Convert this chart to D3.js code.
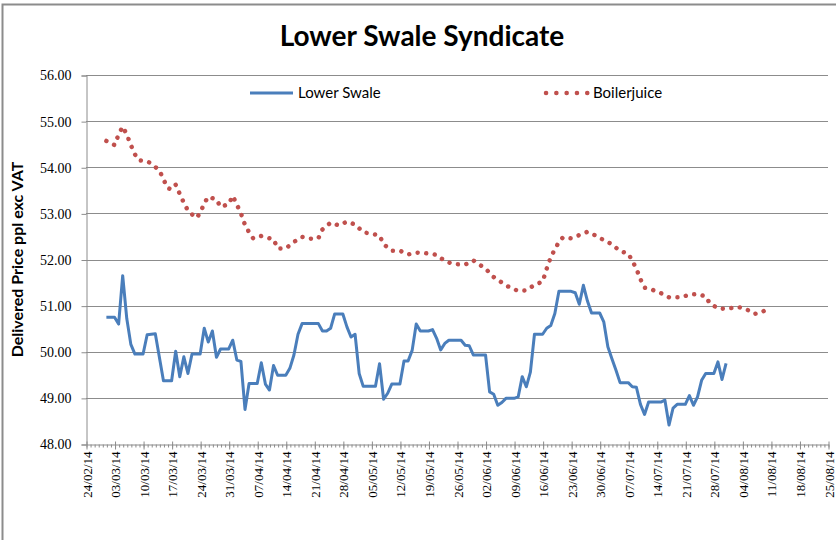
<!DOCTYPE html>
<meta charset="utf-8">
<title>Lower Swale Syndicate</title>
<style>
body{
  margin:0;
  background:#fff;
}
svg{
  display:block;
}
.grid line{
  stroke:#8c8c8c;
}
.axis path, .axis line{
  stroke:#8c8c8c;
}
.axis text{
  font-family:'Liberation Serif', serif;
  fill:#000;
}
.title{
  font-family:'Lato', sans-serif;
  font-weight:bold;
}
.legend text{
  font-family:'Lato', sans-serif;
  font-size:15px;
}
</style>
<svg class="chart" width="836" height="540"></svg>

<script src="https://cdnjs.cloudflare.com/ajax/libs/d3/7.8.5/d3.min.js"></script>
<script>

// week ticks on the x axis
var tickLabels = ["24/02/14","03/03/14","10/03/14","17/03/14","24/03/14","31/03/14","07/04/14","14/04/14",
  "21/04/14","28/04/14","05/05/14","12/05/14","19/05/14","26/05/14","02/06/14","09/06/14","16/06/14",
  "23/06/14","30/06/14","07/07/14","14/07/14","21/07/14","28/07/14","04/08/14","11/08/14","18/08/14","25/08/14"];
var yTicks = [48, 49, 50, 51, 52, 53, 54, 55, 56];

// Lower Swale
var lsDates = ["01/03/14","03/03/14","04/03/14","05/03/14","06/03/14","07/03/14","08/03/14","10/03/14","11/03/14","13/03/14",
  "15/03/14","17/03/14","18/03/14","19/03/14","20/03/14","21/03/14","22/03/14","24/03/14","25/03/14","26/03/14",
  "27/03/14","28/03/14","29/03/14","31/03/14","01/04/14","02/04/14","03/04/14","04/04/14","05/04/14","07/04/14",
  "08/04/14","09/04/14","10/04/14","11/04/14","12/04/14","14/04/14","15/04/14","16/04/14","17/04/14","18/04/14",
  "22/04/14","23/04/14","24/04/14","25/04/14","26/04/14","28/04/14","29/04/14","30/04/14","01/05/14","02/05/14",
  "03/05/14","06/05/14","07/05/14","08/05/14","09/05/14","10/05/14","12/05/14","13/05/14","14/05/14","15/05/14",
  "16/05/14","17/05/14","19/05/14","20/05/14","21/05/14","22/05/14","23/05/14","24/05/14","27/05/14","28/05/14",
  "29/05/14","30/05/14","02/06/14","03/06/14","04/06/14","05/06/14","06/06/14","07/06/14","09/06/14","10/06/14",
  "11/06/14","12/06/14","13/06/14","14/06/14","16/06/14","17/06/14","18/06/14","19/06/14","20/06/14","23/06/14",
  "24/06/14","25/06/14","26/06/14","27/06/14","28/06/14","30/06/14","01/07/14","02/07/14","03/07/14","04/07/14",
  "05/07/14","07/07/14","08/07/14","09/07/14","10/07/14","11/07/14","12/07/14","15/07/14","16/07/14","17/07/14",
  "18/07/14","19/07/14","21/07/14","22/07/14","23/07/14","24/07/14","25/07/14","26/07/14","28/07/14","29/07/14",
  "30/07/14","31/07/14"];
var lsValues = [50.75,50.75,50.60,51.65,50.72,50.16,49.95,49.95,50.37,50.39,
  49.37,49.37,50.01,49.46,49.89,49.53,49.95,49.95,50.51,50.21,
  50.45,49.88,50.06,50.06,50.25,49.82,49.79,48.75,49.31,49.31,
  49.76,49.30,49.17,49.70,49.49,49.49,49.64,49.93,50.38,50.61,
  50.61,50.45,50.45,50.51,50.82,50.82,50.54,50.32,50.38,49.53,
  49.25,49.25,49.74,48.97,49.10,49.30,49.30,49.80,49.80,50.03,
  50.60,50.45,50.45,50.48,50.29,50.04,50.18,50.25,50.25,50.14,
  50.13,49.93,49.93,49.13,49.08,48.84,48.90,48.99,48.99,49.02,
  49.46,49.24,49.56,50.38,50.38,50.51,50.57,50.83,51.31,51.31,
  51.28,51.03,51.44,51.10,50.84,50.84,50.65,50.11,49.85,49.60,
  49.33,49.33,49.24,49.23,48.86,48.64,48.91,48.91,48.95,48.41,
  48.78,48.86,48.86,49.05,48.84,49.02,49.38,49.53,49.53,49.78,
  49.40,49.75];

// Boilerjuice
var bjDates = ["01/03/14","03/03/14","04/03/14","05/03/14","06/03/14","07/03/14","08/03/14","09/03/14","11/03/14","12/03/14",
  "14/03/14","15/03/14","16/03/14","17/03/14","18/03/14","19/03/14","20/03/14","21/03/14","23/03/14","24/03/14",
  "25/03/14","26/03/14","28/03/14","29/03/14","31/03/14","01/04/14","02/04/14","03/04/14","04/04/14","05/04/14",
  "06/04/14","08/04/14","10/04/14","11/04/14","12/04/14","14/04/14","16/04/14","18/04/14","20/04/14","22/04/14",
  "23/04/14","25/04/14","27/04/14","29/04/14","01/05/14","03/05/14","05/05/14","07/05/14","08/05/14","10/05/14",
  "12/05/14","14/05/14","16/05/14","19/05/14","21/05/14","23/05/14","25/05/14","28/05/14","30/05/14","01/06/14",
  "02/06/14","04/06/14","06/06/14","08/06/14","10/06/14","12/06/14","14/06/14","16/06/14","17/06/14","18/06/14",
  "19/06/14","20/06/14","21/06/14","23/06/14","25/06/14","27/06/14","29/06/14","01/07/14","03/07/14","05/07/14",
  "07/07/14","08/07/14","09/07/14","10/07/14","11/07/14","13/07/14","15/07/14","17/07/14","20/07/14","22/07/14",
  "24/07/14","26/07/14","27/07/14","29/07/14","31/07/14","03/08/14","05/08/14","07/08/14","09/08/14","11/08/14"];
var bjValues = [54.57,54.48,54.71,54.88,54.71,54.48,54.28,54.15,54.13,54.08,
  53.93,53.74,53.55,53.52,53.62,53.42,53.23,53.06,52.90,53.00,
  53.22,53.36,53.30,53.14,53.20,53.38,53.19,53.00,52.75,52.59,
  52.46,52.51,52.46,52.44,52.24,52.24,52.38,52.49,52.45,52.46,
  52.65,52.80,52.74,52.82,52.76,52.59,52.56,52.52,52.33,52.19,
  52.19,52.11,52.15,52.13,52.10,51.97,51.90,51.89,51.98,51.86,
  51.80,51.62,51.50,51.39,51.32,51.33,51.45,51.52,51.80,52.05,
  52.22,52.38,52.48,52.46,52.53,52.60,52.52,52.42,52.33,52.18,
  52.13,51.97,51.80,51.57,51.39,51.34,51.27,51.18,51.18,51.24,
  51.25,51.20,51.05,50.94,50.93,50.97,50.92,50.82,50.87,50.98];

var parse = d3.utcParse("%d/%m/%y");
var lsData = lsDates.map(function(d, i) { return {date: parse(d), value: lsValues[i]}; });
var bjData = bjDates.map(function(d, i) { return {date: parse(d), value: bjValues[i]}; });
var ticks = tickLabels.map(parse);

var svg = d3.select("svg.chart");

// chart border
svg.append("rect")
  .attr("x", 2.5).attr("y", 4.5)
  .attr("width", 840).attr("height", 540)
  .attr("fill", "none")
  .attr("stroke", "#8c8c8c")
  .attr("stroke-width", 2);

var plotLeft = 86, plotRight = 828, plotTop = 75, plotBottom = 444;

var x = d3.scaleUtc()
  .domain([ticks[0], ticks[ticks.length - 1]])
  .range([plotLeft, plotRight]);
var y = d3.scaleLinear()
  .domain([48, 56])
  .range([plotBottom, plotTop]);

// gridlines
svg.append("g")
  .attr("class", "grid")
  .selectAll("line")
  .data(yTicks.slice(1))
  .enter().append("line")
    .attr("x1", plotLeft).attr("x2", plotRight)
    .attr("y1", function(d) { return Math.round(y(d)) + 0.5; })
    .attr("y2", function(d) { return Math.round(y(d)) + 0.5; });

// y axis
var yAxis = svg.append("g")
  .attr("class", "axis")
  .attr("transform", "translate(" + (plotLeft + 0.5) + ",0.5)")
  .call(d3.axisLeft(y).tickValues(yTicks).tickFormat(d3.format(".2f")).tickSize(5).tickPadding(10));
yAxis.selectAll("text").style("font-size", "14px");

// x axis, minor ticks every day
var xMinor = svg.append("g")
  .attr("class", "axis")
  .attr("transform", "translate(0.5," + (plotBottom + 0.5) + ")")
  .call(d3.axisBottom(x).ticks(d3.utcDay.every(1)).tickSize(3).tickFormat(""));
xMinor.select("path").remove();

var xAxis = svg.append("g")
  .attr("class", "axis")
  .attr("transform", "translate(0.5," + (plotBottom + 0.5) + ")")
  .call(d3.axisBottom(x).tickValues(ticks).tickSize(5).tickSizeOuter(0).tickFormat(d3.utcFormat("%d/%m/%y")));
xAxis.selectAll(".tick line").attr("y1", -3);
xAxis.selectAll("text")
  .style("font-size", "13px")
  .attr("text-anchor", "end")
  .attr("transform", "rotate(-90)")
  .attr("x", -7)
  .attr("y", 0)
  .attr("dy", "0.35em");

// series
var line = d3.line()
  .x(function(d) { return x(d.date); })
  .y(function(d) { return y(d.value); });

var bjPath = svg.append("path")
  .datum(bjData)
  .attr("d", line)
  .attr("fill", "none")
  .attr("stroke", "#c0504d")
  .attr("stroke-width", 4.5)
  .attr("stroke-linecap", "round");
// round dots, spacing stretched a little so a dot sits on the last point too
var len = bjPath.node().getTotalLength();
var gap = len / Math.round(len / 8.6);
bjPath.attr("stroke-dasharray", "0.01 " + (gap - 0.01));

svg.append("path")
  .datum(lsData)
  .attr("d", line)
  .attr("fill", "none")
  .attr("stroke", "#4a7ebb")
  .attr("stroke-width", 3)
  .attr("stroke-linejoin", "round");

// title + y label
svg.append("text")
  .attr("class", "title")
  .attr("x", 422).attr("y", 46)
  .attr("text-anchor", "middle")
  .style("font-size", "28px")
  .text("Lower Swale Syndicate");

svg.append("text")
  .attr("class", "title")
  .attr("transform", "translate(23," + ((plotTop + plotBottom) / 2) + ") rotate(-90)")
  .attr("text-anchor", "middle")
  .style("font-size", "16px")
  .text("Delivered Price ppl exc VAT");

// legend
var legend = svg.append("g").attr("class", "legend");
legend.append("line")
  .attr("x1", 250).attr("x2", 293).attr("y1", 93).attr("y2", 93)
  .attr("stroke", "#4a7ebb").attr("stroke-width", 3);
legend.append("text")
  .attr("x", 298).attr("y", 98)
  .text("Lower Swale");
legend.append("line")
  .attr("x1", 546).attr("x2", 588).attr("y1", 93).attr("y2", 93)
  .attr("stroke", "#c0504d").attr("stroke-width", 4.5)
  .attr("stroke-linecap", "round")
  .attr("stroke-dasharray", "0.1 10.2");
legend.append("text")
  .attr("x", 593).attr("y", 98)
  .text("Boilerjuice");

</script>
